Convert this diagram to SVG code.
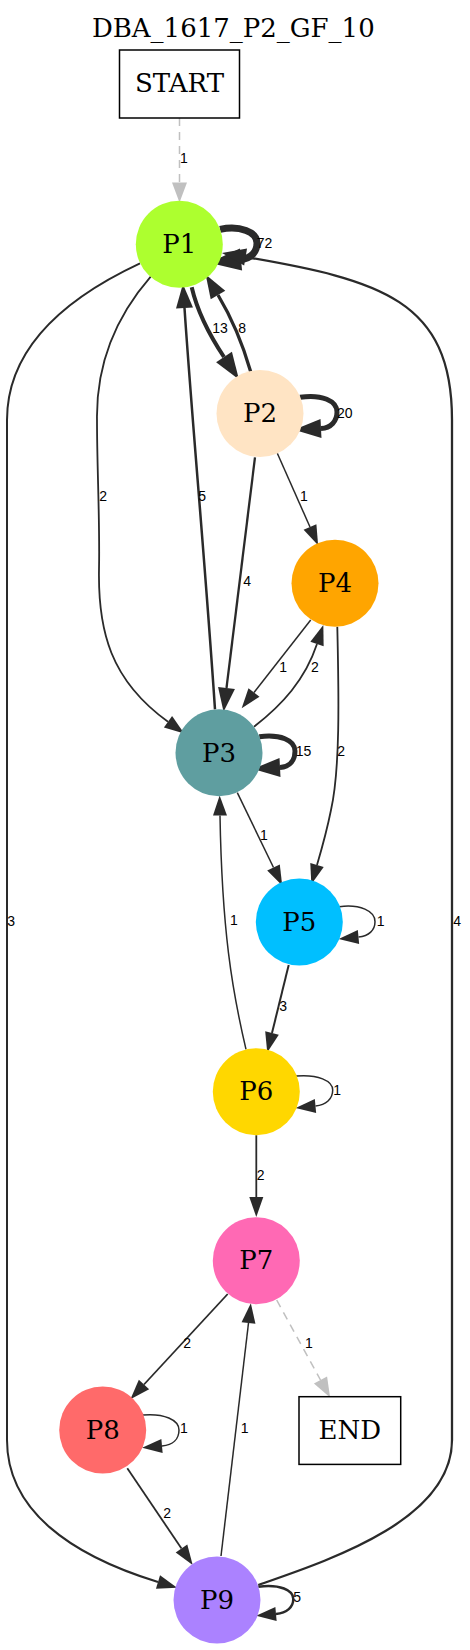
<svg xmlns="http://www.w3.org/2000/svg" width="470" height="1650" viewBox="0 0 470 1650">
<style>
.t{font-family:"DejaVu Serif",serif;font-size:26px;text-anchor:middle;fill:#000}
.l{font-family:"Liberation Sans",Arial,sans-serif;font-size:14px;fill:#000}
.e{fill:none;stroke:#2a2a2a}
.g{fill:none;stroke:#c0c0c0;stroke-width:1.5;stroke-dasharray:8,6}
.box{fill:#fff;stroke:#000;stroke-width:1.5}
</style>
<defs>
<marker id="aN" markerUnits="userSpaceOnUse" markerWidth="20" markerHeight="14" viewBox="0 -7 20 14" refX="0" refY="0" orient="auto" overflow="visible"><path d="M0,-7L20,0L0,7z" fill="#2a2a2a"/></marker>
<marker id="aG" markerUnits="userSpaceOnUse" markerWidth="20" markerHeight="15" viewBox="0 -7.5 20 15" refX="0" refY="0" orient="auto" overflow="visible"><path d="M0,-7.5L20,0L0,7.5z" fill="#c0c0c0"/></marker>
<marker id="aM" markerUnits="userSpaceOnUse" markerWidth="24" markerHeight="17" viewBox="0 -8.5 24 17" refX="0" refY="0" orient="auto" overflow="visible"><path d="M0,-8.5L24,0L0,8.5z" fill="#2a2a2a"/></marker>
<marker id="aT" markerUnits="userSpaceOnUse" markerWidth="27" markerHeight="19" viewBox="0 -9.5 27 19" refX="0" refY="0" orient="auto" overflow="visible"><path d="M0,-9.5L27,0L0,9.5z" fill="#2a2a2a"/></marker>
<marker id="aX" markerUnits="userSpaceOnUse" markerWidth="32" markerHeight="22" viewBox="0 -11 32 22" refX="0" refY="0" orient="auto" overflow="visible"><path d="M0,-11L32,0L0,11z" fill="#2a2a2a"/></marker>
</defs>
<text class="t" x="233.3" y="36.7">DBA_1617_P2_GF_10</text>
<g id="connectors">
<path class="g" d="M179.5,118L179.5,182.5" marker-end="url(#aG)"/>
<path class="e" stroke-width="7" d="M220,229.3C240,225 257,232 257,243C257,252 251,258.5 241,259.5" marker-end="url(#aX)"/>
<path class="e" stroke-width="4" d="M191.7,287.3C197,310 208,333 224,357" marker-end="url(#aT)"/>
<path class="e" stroke-width="3.3" d="M250.7,371.7C243,345 233,320 218,295" marker-end="url(#aM)"/>
<path class="e" stroke-width="5" d="M300,397.3C322,394 337,401 337,412C337,421 331,428 321,428.5" marker-end="url(#aT)"/>
<path class="e" stroke-width="1.8" d="M150.7,276.7C120,312 96,360 97,420C97,470 100,520 99,570C98,630 110,680 168,721.7" marker-end="url(#aN)"/>
<path class="e" stroke-width="2.5" d="M215,709.3C205,560 192,420 184.5,308" marker-end="url(#aM)"/>
<path class="e" stroke-width="2.3" d="M255,457.3L226.5,688" marker-end="url(#aM)"/>
<path class="e" stroke-width="1.5" d="M277.3,453.3L310,527" marker-end="url(#aN)"/>
<path class="e" stroke-width="1.5" d="M310.7,620L254,692.5" marker-end="url(#aN)"/>
<path class="e" stroke-width="1.8" d="M254,726.7C282,705 305,680 317,644" marker-end="url(#aN)"/>
<path class="e" stroke-width="5" d="M259.3,736.7C280,734 295,740 295,751C295,760 290,767 280,767.5" marker-end="url(#aT)"/>
<path class="e" stroke-width="1.8" d="M337.3,626.7C339,700 340,770 331,810C327,830 322,848 317,865" marker-end="url(#aN)"/>
<path class="e" stroke-width="1.5" d="M237.3,792.7L273.5,867.5" marker-end="url(#aN)"/>
<path class="e" stroke-width="1.5" d="M246,1049.3C232,990 222,930 220,815.5" marker-end="url(#aN)"/>
<path class="e" stroke-width="1.5" d="M339.3,906.7C360,904 375,911 375,921.7C375,930 369,936 358.5,937" marker-end="url(#aN)"/>
<path class="e" stroke-width="2" d="M288.7,965L272,1033" marker-end="url(#aN)"/>
<path class="e" stroke-width="1.5" d="M296,1076C318,1074 332.7,1081 332.7,1090C332.7,1099 326,1105 315.5,1106" marker-end="url(#aN)"/>
<path class="e" stroke-width="1.8" d="M256.3,1135.2L256.3,1197" marker-end="url(#aN)"/>
<path class="e" stroke-width="1.8" d="M227.7,1294L144,1384.5" marker-end="url(#aN)"/>
<path class="g" d="M276.7,1300L320.5,1380" marker-end="url(#aG)"/>
<path class="e" stroke-width="1.5" d="M142.7,1415C164,1413 179,1420 179,1430C179,1439 173,1445 162,1446" marker-end="url(#aN)"/>
<path class="e" stroke-width="1.8" d="M127.3,1468.3L181.5,1548.5" marker-end="url(#aN)"/>
<path class="e" stroke-width="1.5" d="M221,1556L248.5,1323" marker-end="url(#aN)"/>
<path class="e" stroke-width="2" d="M140,263.3C70,296 7,345 7,420L7,1440C7,1510 70,1555 158,1582" marker-end="url(#aN)"/>
<path class="e" stroke-width="2.3" d="M258.3,1585C330,1560 452,1520 452,1440L452,420C452,300 380,280 245.6,257" marker-end="url(#aM)"/>
<path class="e" stroke-width="2.5" d="M258.3,1586.7C280,1584 293.3,1590 293.3,1599C293.3,1607 287,1613 276,1614" marker-end="url(#aN)"/>
<text class="l" x="180" y="163.3">1</text>
<text class="l" x="256.7" y="248">72</text>
<text class="l" x="212.3" y="333.3">13</text>
<text class="l" x="238.3" y="333.3">8</text>
<text class="l" x="337" y="417.5">20</text>
<text class="l" x="99.3" y="501">2</text>
<text class="l" x="198.3" y="501">5</text>
<text class="l" x="300" y="501">1</text>
<text class="l" x="243.3" y="586">4</text>
<text class="l" x="279.3" y="671.7">1</text>
<text class="l" x="311" y="671.7">2</text>
<text class="l" x="295.7" y="756">15</text>
<text class="l" x="337.3" y="756">2</text>
<text class="l" x="260" y="840">1</text>
<text class="l" x="7.3" y="926">3</text>
<text class="l" x="230" y="925">1</text>
<text class="l" x="376.7" y="926">1</text>
<text class="l" x="453.3" y="926">4</text>
<text class="l" x="279.3" y="1010.7">3</text>
<text class="l" x="333.3" y="1095">1</text>
<text class="l" x="256.7" y="1180">2</text>
<text class="l" x="183.3" y="1348.3">2</text>
<text class="l" x="305" y="1348.3">1</text>
<text class="l" x="180" y="1433.3">1</text>
<text class="l" x="240.7" y="1433.3">1</text>
<text class="l" x="163.3" y="1518.3">2</text>
<text class="l" x="293.3" y="1601.7">5</text>
</g>
<g id="START"><rect class="box" x="119.5" y="50" width="120" height="68"/><text class="t" x="179.5" y="92">START</text></g>
<g id="P1"><circle cx="179.3" cy="244.3" r="43.5" fill="#adff2f"/><text class="t" x="179.3" y="253">P1</text></g>
<g id="P2"><circle cx="260" cy="413.5" r="43.5" fill="#ffe4c4"/><text class="t" x="260" y="422">P2</text></g>
<g id="P4"><circle cx="335" cy="583.3" r="43.5" fill="#ffa500"/><text class="t" x="335" y="592">P4</text></g>
<g id="P3"><circle cx="219" cy="752.7" r="43.5" fill="#5f9ea0"/><text class="t" x="219" y="761.5">P3</text></g>
<g id="P5"><circle cx="299.3" cy="922" r="43.5" fill="#00bfff"/><text class="t" x="299.3" y="930.5">P5</text></g>
<g id="P6"><circle cx="256.3" cy="1091.7" r="43.5" fill="#ffd700"/><text class="t" x="256.3" y="1100.3">P6</text></g>
<g id="P7"><circle cx="256.3" cy="1260.7" r="43.5" fill="#ff69b4"/><text class="t" x="256.3" y="1269.3">P7</text></g>
<g id="P8"><circle cx="102.7" cy="1430" r="43.5" fill="#ff6a6a"/><text class="t" x="102.7" y="1438.7">P8</text></g>
<g id="P9"><circle cx="217" cy="1600" r="43.5" fill="#ab82ff"/><text class="t" x="217" y="1608.7">P9</text></g>
<g id="END"><rect class="box" x="299" y="1396.7" width="101.7" height="67.7"/><text class="t" x="349.8" y="1439">END</text></g>
</svg>
